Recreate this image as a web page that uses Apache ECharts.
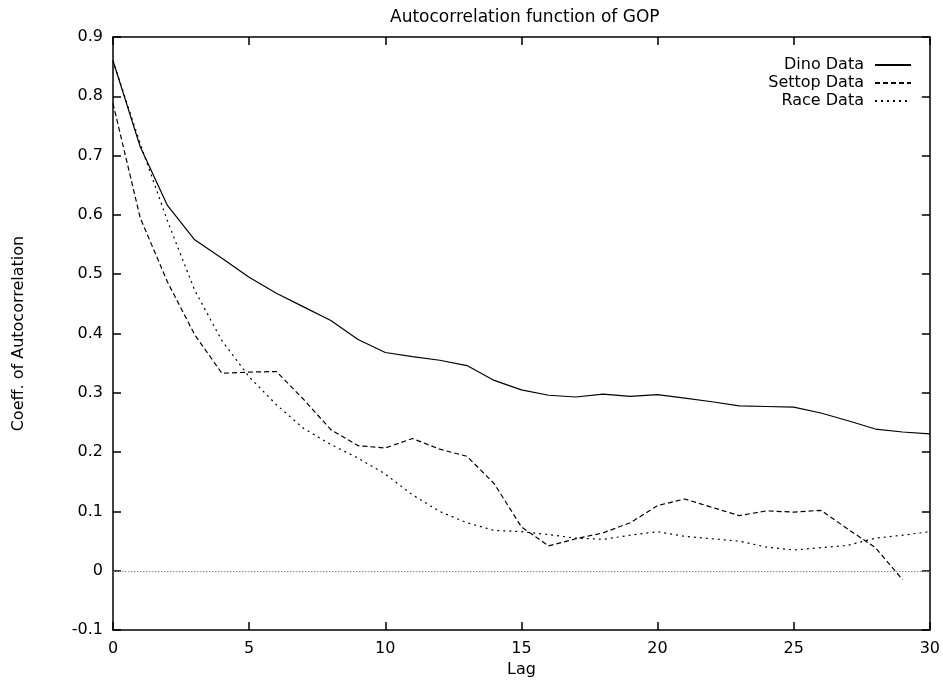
<!DOCTYPE html>
<html>
<head>
<meta charset="utf-8">
<title>Autocorrelation function of GOP</title>
<script src="https://cdn.jsdelivr.net/npm/echarts@6/dist/echarts.min.js"></script>
<style>
  html, body { margin: 0; padding: 0; background: #fff; }
  #chart { width: 943px; height: 683px; }
</style>
</head>
<body>
<div id="chart"></div>
<script>
// Lags 0..30
const lags = [0, 1, 2, 3, 4, 5, 6, 7, 8, 9, 10, 11, 12, 13, 14, 15, 16, 17, 18, 19, 20,
              21, 22, 23, 24, 25, 26, 27, 28, 29, 30];

// Autocorrelation coefficients per trace
const dinoData = [0.860, 0.715, 0.616, 0.558, 0.527, 0.495, 0.468, 0.445, 0.422, 0.390, 0.368,
                  0.361, 0.355, 0.346, 0.321, 0.305, 0.296, 0.293, 0.298, 0.294, 0.297,
                  0.291, 0.285, 0.278, 0.277, 0.276, 0.266, 0.253, 0.239, 0.234, 0.231];
const settopData = [0.788, 0.595, 0.487, 0.398, 0.333, 0.335, 0.336, 0.289, 0.238, 0.211, 0.207,
                    0.223, 0.205, 0.193, 0.147, 0.074, 0.042, 0.054, 0.064, 0.081, 0.110,
                    0.121, 0.107, 0.093, 0.101, 0.099, 0.102, 0.070, 0.039, -0.015];
const raceData = [0.860, 0.720, 0.590, 0.473, 0.388, 0.327, 0.280, 0.240, 0.213, 0.190, 0.163,
                  0.128, 0.100, 0.081, 0.068, 0.066, 0.061, 0.055, 0.053, 0.060, 0.066,
                  0.058, 0.054, 0.050, 0.040, 0.035, 0.039, 0.043, 0.055, 0.060, 0.066];

const seriesNames = ['Dino Data', 'Settop Data', 'Race Data'];

// Axis ranges / ticks
const xTicks = [0, 5, 10, 15, 20, 25, 30];
const yTicks = [-0.1, 0, 0.1, 0.2, 0.3, 0.4, 0.5, 0.6, 0.7, 0.8, 0.9];

const FONT = 'DejaVu Sans';
const pairs = (vals) => vals.map((v, i) => [lags[i], v]);

const tickStyle = { show: true, inside: true, length: 8, lineStyle: { color: '#000', width: 1.5 } };
const lineStyleAxis = { show: true, onZero: false, lineStyle: { color: '#000', width: 1.5 } };

const xBase = {
  type: 'value',
  min: xTicks[0],
  max: xTicks[xTicks.length - 1],
  interval: xTicks[1] - xTicks[0],
  splitLine: { show: false },
  axisLine: lineStyleAxis,
  axisTick: tickStyle
};
const yBase = {
  type: 'value',
  min: yTicks[0],
  max: yTicks[yTicks.length - 1],
  interval: 0.1,
  splitLine: { show: false },
  axisLine: lineStyleAxis,
  axisTick: tickStyle
};

const chart = echarts.init(document.getElementById('chart'), null, { renderer: 'canvas' });

chart.setOption({
  animation: false,
  backgroundColor: '#fff',
  textStyle: { fontFamily: FONT },
  title: {
    text: 'Autocorrelation function of GOP',
    left: 390,
    top: 9,
    padding: 0,
    textStyle: { fontFamily: FONT, fontSize: 17, fontWeight: 'normal', color: '#000' }
  },
  legend: {
    orient: 'vertical',
    right: 31,
    top: 57,
    padding: 0,
    align: 'right',
    itemWidth: 36,
    itemHeight: 14,
    itemGap: 2,
    selectedMode: false,
    data: seriesNames,
    // line sample only, no point marker
    itemStyle: { opacity: 0 },
    textStyle: { fontFamily: FONT, fontSize: 16, color: '#000', padding: [0, 6, 0, 0] }
  },
  grid: { left: 113, right: 13, top: 37, bottom: 48, containLabel: false },
  xAxis: [
    Object.assign({}, xBase, {
      position: 'bottom',
      name: 'Lag',
      nameLocation: 'middle',
      nameGap: 26,
      nameTextStyle: { fontFamily: FONT, fontSize: 16, color: '#000' },
      axisLabel: { show: true, margin: 11, fontFamily: FONT, fontSize: 16, color: '#000' }
    }),
    Object.assign({}, xBase, { position: 'top', axisLabel: { show: false } })
  ],
  yAxis: [
    Object.assign({}, yBase, {
      position: 'left',
      name: 'Coeff. of Autocorrelation',
      nameLocation: 'middle',
      nameRotate: 90,
      nameGap: 86,
      nameTextStyle: { fontFamily: FONT, fontSize: 16, color: '#000' },
      axisLabel: {
        show: true, margin: 10, fontFamily: FONT, fontSize: 16, color: '#000',
        formatter: (v) => (Math.abs(v) < 1e-9 ? '0' : v.toFixed(1))
      }
    }),
    Object.assign({}, yBase, { position: 'right', axisLabel: { show: false } })
  ],
  series: [
    {
      name: seriesNames[0],
      type: 'line',
      data: pairs(dinoData),
      symbol: 'none',
      lineStyle: { color: '#000', width: 1.2, type: 'solid' },
      itemStyle: { color: '#000' },
      z: 3,
      markLine: {
        silent: true,
        symbol: ['none', 'none'],
        label: { show: false },
        lineStyle: { color: '#888', width: 1, type: [1.5, 1.5] },
        data: [{ yAxis: 0 }]
      }
    },
    {
      name: seriesNames[1],
      type: 'line',
      data: pairs(settopData),
      symbol: 'none',
      lineStyle: { color: '#000', width: 1.2, type: [5, 3] },
      itemStyle: { color: '#000' },
      z: 3
    },
    {
      name: seriesNames[2],
      type: 'line',
      data: pairs(raceData),
      symbol: 'none',
      lineStyle: { color: '#000', width: 1.2, type: [2, 4] },
      itemStyle: { color: '#000' },
      z: 3
    }
  ]
});
</script>
</body>
</html>
